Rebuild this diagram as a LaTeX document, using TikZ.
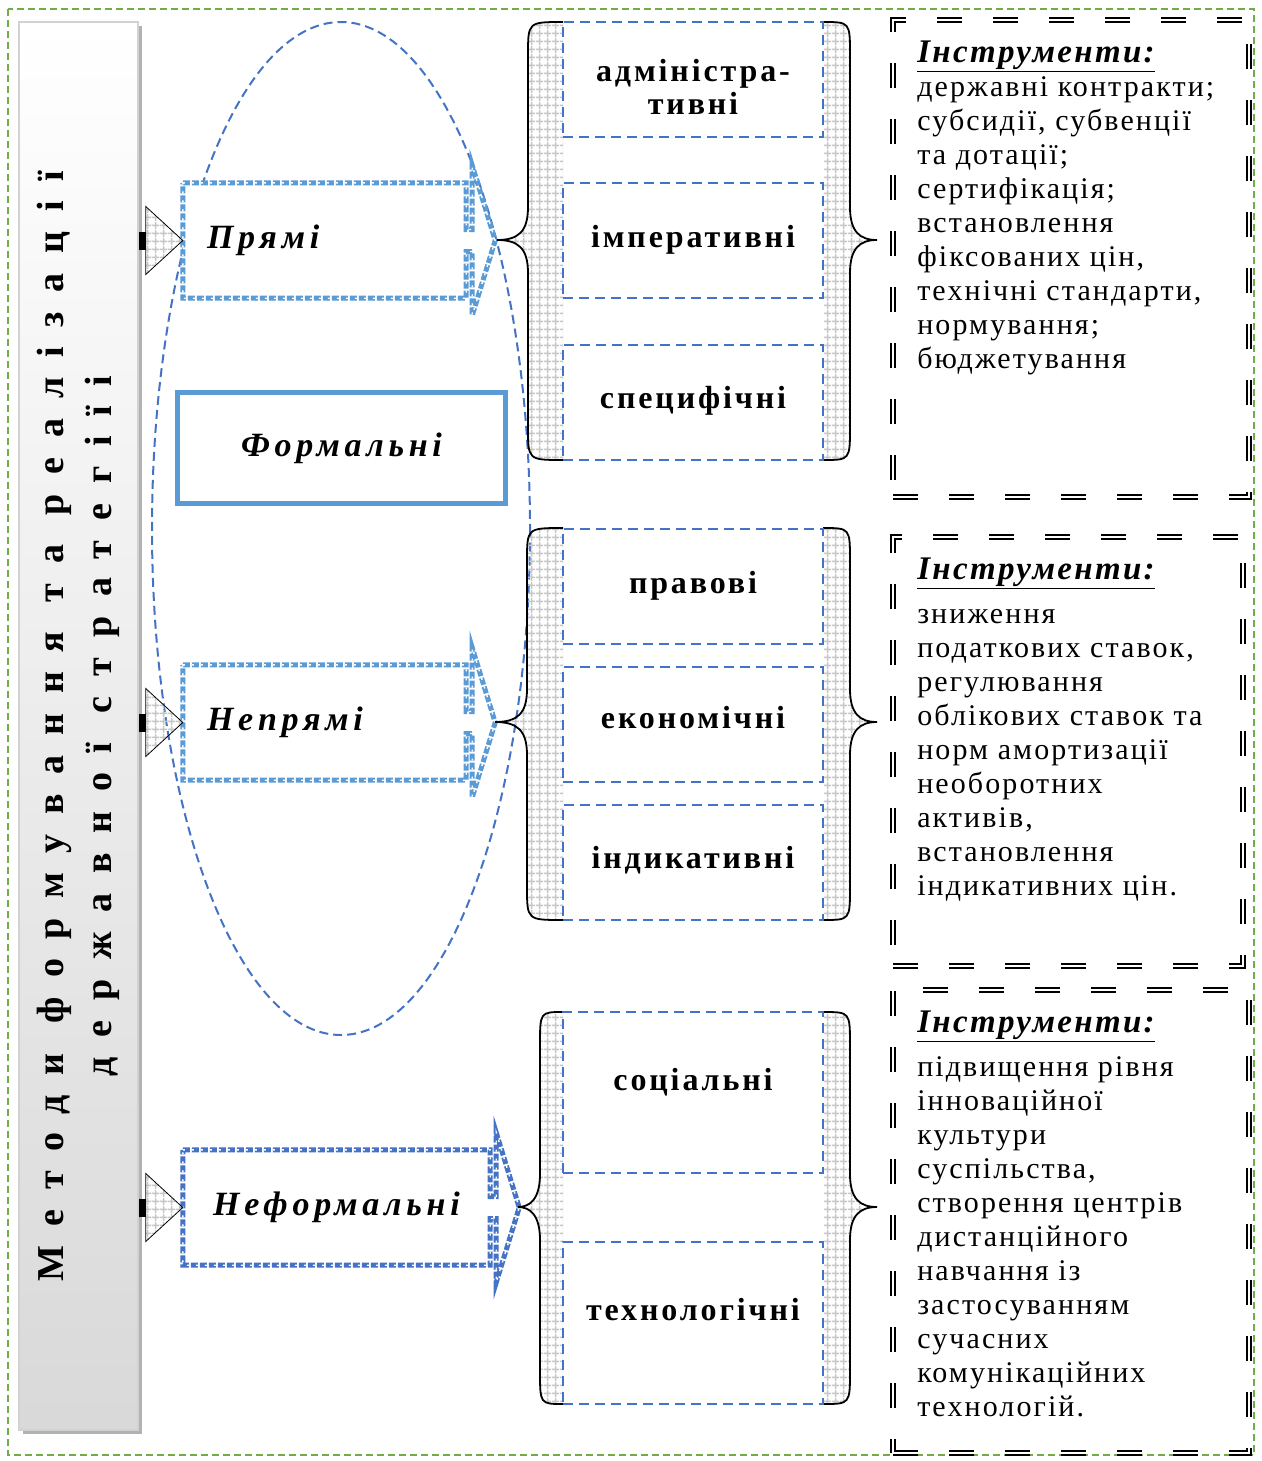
\documentclass[tikz,border=0pt]{standalone}
\usepackage{fontspec}
\setmainfont{Liberation Serif}
\newfontfamily\titlefont[LetterSpace=52]{Liberation Serif}
\newfontfamily\kindfont[LetterSpace=9]{Liberation Serif}
\newfontfamily\methodfont[LetterSpace=14]{Liberation Serif}
\newfontfamily\toolfont[LetterSpace=7]{Liberation Serif}
\usetikzlibrary{calc,shadows,patterns.meta}

\definecolor{lightblue}{HTML}{5B9BD5}
\definecolor{darkblue}{HTML}{4472C4}
\definecolor{framegreen}{HTML}{70AD47}

\tikzdeclarepattern{name=cellgrid, type=uncolored,
  bounding box={(0pt,0pt) and (8pt,8pt)}, tile size={(8pt,8pt)},
  code={\draw[line width=1.6pt] (0pt,4pt) -- (8pt,4pt) (4pt,0pt) -- (4pt,8pt);}}

\begin{document}
\begin{tikzpicture}[x=1pt,y=-1pt,
  titlebox/.style={draw=gray!35,line width=1.5pt,top color=white,bottom color=gray!30,minimum width=119pt,minimum height=1408pt,drop shadow={shadow xshift=4pt,shadow yshift=-4pt,fill=gray!60,opacity=1}},
  method/.style={fill=white,minimum height=115pt,inner xsep=24pt,inner ysep=0pt,font=\methodfont\bfseries\itshape\fontsize{34}{40}\selectfont},
  methodline/.style={draw=#1,line width=5pt,dash pattern=on 7pt off 2pt,postaction={draw=white,line width=1.4pt,dash pattern=on 2pt off 7pt}},
  kind/.style={draw=darkblue,line width=2pt,dash pattern=on 10pt off 6pt,minimum width=260pt,minimum height=115pt,align=center,font=\kindfont\bfseries\fontsize{32}{33}\selectfont},
  brace/.style={line width=1.8pt,preaction={pattern=cellgrid,pattern color=gray!45}},
  toolframe/.style={draw,line width=1.8pt,double,double distance=2.8pt,dash pattern=on 25pt off 31pt,inner sep=0pt},
  tooltext/.style={anchor=north west,inner sep=0pt,align=left,font=\toolfont\fontsize{30}{34}\selectfont}]
  \useasboundingbox (0,0) rectangle (1261,1461);
  \draw[framegreen,line width=1.5pt,dash pattern=on 7pt off 4pt] (8,9) rectangle (1254,1455);

  \node[titlebox] (title) at (78.5,726) {};
  \node[rotate=90,align=center,font=\titlefont\bfseries\fontsize{38}{48}\selectfont] (titletext) at (title.center) {Методи формування та реалізації\\державної стратегіїі};

  \draw[darkblue,line width=2pt,dash pattern=on 9pt off 5pt] (341,528.5) ellipse [x radius=189, y radius=506.5];

  \node[method,minimum width=283pt,text width=235pt,align=left] (direct) at (324.5,240.5) {Прямі};
  \node[method,minimum width=283pt,text width=235pt,align=left] (indirect) at (324.5,722.5) {Непрямі};
  \node[method,minimum width=307pt,text width=259pt,align=center] (informal) at (336.5,1207.5) {Неформальні};
  \node[method,draw=lightblue,line width=5pt,minimum width=328pt,minimum height=111pt,align=center] (formal) at (341.5,448) {Формальні};

  \foreach \n/\c in {direct/lightblue,indirect/lightblue,informal/darkblue}{
    \draw[methodline=\c] (\n.north west) -- (\n.north east) -- ($(\n.east)+(0,-11)$) -- ++(6,0) -- ++(0,-64) -- ($(\n.east)+(29,0)$) -- ($(\n.east)+(6,75)$) -- ++(0,-64) -- ++(-6,0) -- (\n.south east) -- (\n.south west) -- cycle;
    \fill ($(title.east |- \n.west)+(0,-9)$) rectangle ++(7,18);
    \draw[thick,pattern=cellgrid,pattern color=gray!45] ($(title.east |- \n.west)+(7,-34)$) -- (\n.west) -- ($(title.east |- \n.west)+(7,34)$) -- cycle;
  }

  % braces round the kinds
  \foreach \ytop/\ymid/\ybot/\xout/\xtip in {22/240/460/528/497,528/722/920/527/495,1012/1207/1404/540/518}{
    \draw[brace] (563,\ytop) .. controls (\xout,\ytop) .. (\xout,\ytop+33) -- (\xout,\ymid-33) .. controls (\xout,\ymid-8) and (\xout-10,\ymid) .. (\xtip,\ymid) .. controls (\xout-10,\ymid) and (\xout,\ymid+8) .. (\xout,\ymid+33) -- (\xout,\ybot-33) .. controls (\xout,\ybot) .. (563,\ybot);
    \draw[brace] (823,\ytop) .. controls (850,\ytop) .. (850,\ytop+33) -- (850,\ymid-33) .. controls (850,\ymid-8) and (860,\ymid) .. (877,\ymid) .. controls (860,\ymid) and (850,\ymid+8) .. (850,\ymid+33) -- (850,\ybot-33) .. controls (850,\ybot) .. (823,\ybot);
  }

  \node[kind] (admin) at (693,79.5) {\rule{0pt}{0pt}\\[5pt]адміністра-\\тивні};
  \node[kind] (imper) at (693,240.5) {імперативні\\[-24pt]};
  \node[kind] (specif) at (693,402) {специфічні\\[-24pt]};
  \node[kind] (legal) at (693,586) {правові\\[-26pt]};
  \node[kind] (econ) at (693,724) {економічні\\[-20pt]};
  \node[kind] (indic) at (693,862) {індикативні\\[-24pt]};
  \node[kind,minimum height=161pt] (social) at (693,1092.5) {соціальні\\[-6pt]};
  \node[kind,minimum height=162pt] (techno) at (693,1323) {технологічні\\[-6pt]};

  \node[toolframe,minimum width=356pt,minimum height=477pt] (frame1) at (1071,258.5) {};
  \node[toolframe,minimum width=350pt,minimum height=429pt] (frame2) at (1068,751.5) {};
  \node[toolframe,minimum width=356pt,minimum height=463pt] (frame3) at (1071,1221.5) {};

  \node[tooltext] (tools1) at ($(frame1.north west)+(25,22)$) {{\bfseries\itshape\fontsize{33}{34}\selectfont\underline{Інструменти:}}\\державні контракти;\\субсидії, субвенції\\та дотації;\\сертифікація;\\встановлення\\фіксованих цін,\\технічні стандарти,\\нормування;\\бюджетування};
  \node[tooltext] (tools2) at ($(frame2.north west)+(25,22)$) {{\bfseries\itshape\fontsize{33}{34}\selectfont\underline{Інструменти:}}\\[10pt]зниження\\податкових ставок,\\регулювання\\облікових ставок та\\норм амортизації\\необоротних\\активів,\\встановлення\\індикативних цін.};
  \node[tooltext] (tools3) at ($(frame3.north west)+(25,22)$) {{\bfseries\itshape\fontsize{33}{34}\selectfont\underline{Інструменти:}}\\[10pt]підвищення рівня\\інноваційної\\культури\\суспільства,\\створення центрів\\дистанційного\\навчання із\\застосуванням\\сучасних\\комунікаційних\\технологій.};
\end{tikzpicture}
\end{document}
